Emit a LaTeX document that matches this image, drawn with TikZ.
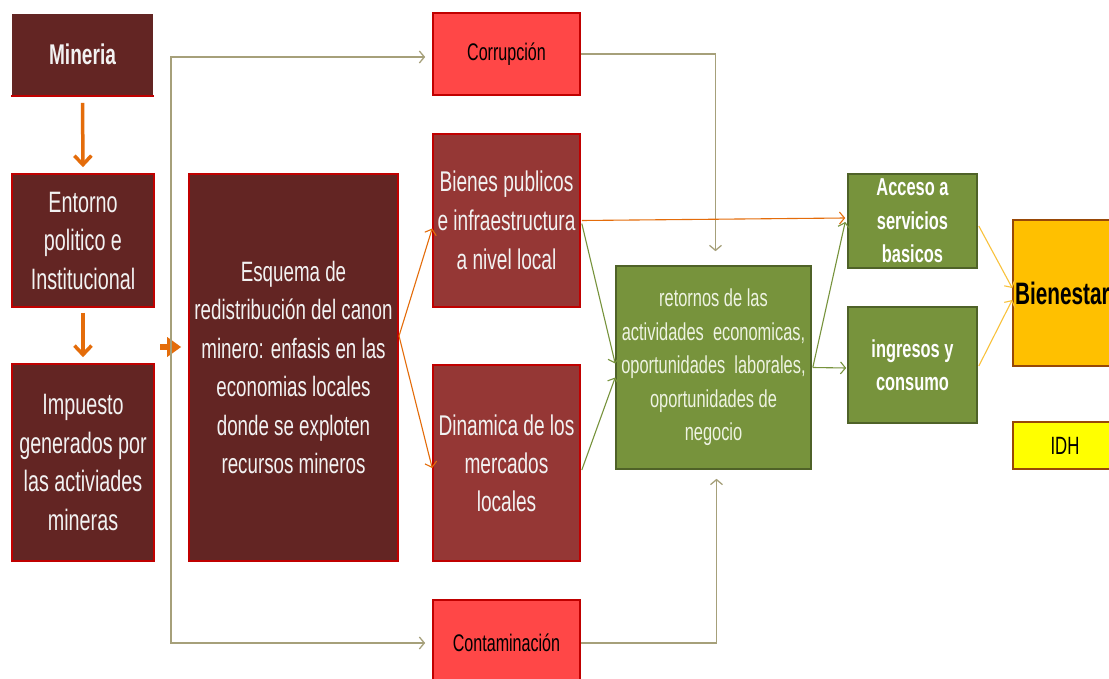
\documentclass[tikz,border=0pt]{standalone}
\usepackage{fontspec}
\newfontfamily\nf[FakeStretch=0.67]{Liberation Sans}
\usetikzlibrary{arrows.meta,calc}
\definecolor{maroon}{HTML}{632523}
\definecolor{bred}{HTML}{C00000}
\definecolor{midred}{HTML}{953735}
\definecolor{brightred}{HTML}{FF4747}
\definecolor{gfill}{HTML}{77933C}
\definecolor{gdark}{HTML}{4F6228}
\definecolor{goldf}{HTML}{FFC000}
\definecolor{brownb}{HTML}{984807}
\definecolor{ylw}{HTML}{FFFF00}
\definecolor{orng}{HTML}{E46C0A}
\definecolor{olv}{HTML}{A6A07A}
\definecolor{yarr}{HTML}{F9C23C}
\definecolor{txtw}{HTML}{F2F2F2}
\definecolor{txtg}{HTML}{EEF3E2}
\tikzset{
  box/.style={draw=bred, line width=1.6pt, inner sep=0pt, align=center},
  mbox/.style={box, fill=maroon, text=txtw},
  rbox/.style={box, fill=midred, text=txtw},
  hbox/.style={box, fill=brightred, text=black, font=\nf\fontsize{24}{30}\selectfont},
  gbox/.style={box, draw=gdark, fill=gfill, text=txtg},
  othick/.style={draw=orng, line width=3.5pt, -{Straight Barb[length=9pt,width=17pt]}},
  othin/.style={draw=orng, line width=1.1pt, -{Straight Barb[length=5pt,width=12pt]}},
  gthin/.style={draw=gfill, line width=1.1pt, -{Straight Barb[length=5pt,width=12pt]}},
  ythin/.style={draw=yarr, line width=1.1pt, -{Straight Barb[length=5pt,width=12pt]}},
  oline/.style={draw=olv, line width=1.3pt},
}
\begin{document}
\begin{tikzpicture}[x=1pt,y=-1pt]
\clip (0,0) rectangle (1109,679);
\fill[white] (0,0) rectangle (1109,679);
% left column
\node[mbox, draw=none, minimum width=141pt, minimum height=81pt, font=\nf\bfseries\fontsize{28.5}{32}\selectfont] (min) at (82.5,54.5) {Mineria};
\draw[bred, line width=2pt] (min.south west) -- (min.south east);
\node[mbox, font=\nf\fontsize{29.5}{38.5}\selectfont, minimum width=142pt, minimum height=133pt] (ent) at (83,240.5) {Entorno\\politico e\\Institucional};
\node[mbox, font=\nf\fontsize{29.5}{38.5}\selectfont, minimum width=142pt, minimum height=197pt] (imp) at (83,462.5) {Impuesto\\generados por\\las activiades\\mineras};
\node[mbox, font=\nf\fontsize{28}{38.5}\selectfont, minimum width=209pt, minimum height=387pt] (esq) at (293.5,367.5) {Esquema de\\redistribución del canon\\minero: enfasis en las\\economias locales\\donde se exploten\\recursos mineros};
% middle column
\node[hbox, minimum width=147pt, minimum height=82pt] (cor) at (506.5,54) {Corrupción};
\node[rbox, font=\nf\fontsize{28.5}{39}\selectfont, minimum width=147pt, minimum height=173pt] (bie) at (506.5,220.5) {Bienes publicos\\e infraestructura\\a nivel local};
\node[rbox, font=\nf\fontsize{28.5}{38}\selectfont, minimum width=147pt, minimum height=196pt] (din) at (506.5,463) {Dinamica de los\\mercados\\locales};
\node[hbox, minimum width=147pt, minimum height=86pt] (con) at (506.5,643) {Contaminación};
% green
\node[gbox, minimum width=195pt, minimum height=203pt, font=\nf\fontsize{24.5}{33.5}\selectfont] (ret) at (713.5,367.5) {retornos de las\\actividades\ \ economicas,\\oportunidades\ \ laborales,\\oportunidades de\\negocio};
\node[gbox, minimum width=129pt, minimum height=94pt, font=\nf\bfseries\fontsize{24.5}{33.5}\selectfont, text=white] (acc) at (912.5,221) {Acceso a\\servicios\\basicos};
\node[gbox, minimum width=129pt, minimum height=116pt, font=\nf\bfseries\fontsize{24.5}{33}\selectfont, text=white] (ing) at (912.5,365) {ingresos y\\consumo};
% right
\node[box, draw=brownb, fill=goldf, minimum width=117pt, minimum height=146pt, text width=113pt, align=left, inner xsep=2pt, font=\nf\bfseries\fontsize{31}{34}\selectfont, text=black] (bien) at (1071.5,293) {Bienestar};
\node[box, draw=brownb, fill=ylw, minimum width=104pt, minimum height=47pt, font=\nf\fontsize{25}{30}\selectfont, text=black] (idh) at (1065,445.5) {IDH};
% thick orange arrows
\draw[othick, shorten <=7pt, shorten >=6pt] (min.south) -- (ent.north);
\draw[othick, shorten <=5pt, shorten >=6pt] (ent.south) -- (imp.north);
\coordinate (fa) at (160,347);
\draw[draw=orng, line width=6pt, -{Triangle[length=14pt,width=19pt]}, shorten >=7pt] (fa) -- (esq.west |- fa);
% olive lines
\coordinate (ov) at (171,350);
\draw[oline, {Straight Barb[length=5pt,width=12pt]}-{Straight Barb[length=5pt,width=12pt]}, shorten <=7pt, shorten >=7pt] ($(cor.west)+(0,3)$) -| (ov) |- (con.west);
\draw[oline, -{Straight Barb[length=5pt,width=12pt]}, shorten >=14pt] (cor.east) -| ($(ret.north)+(2,0)$);
\draw[oline, -{Straight Barb[length=5pt,width=12pt]}, shorten >=9pt] (con.east) -| ($(ret.south)+(3,0)$);
% thin connectors
\coordinate (eo) at (399,336);
\draw[othin] (eo) -- ($(bie.west)+(0,8)$);
\draw[othin] (eo) -- ($(din.west)+(0,5)$);
\draw[othin] ($(bie.east)+(1,0)$) -- ($(acc.west)+(-2,-3)$);
\draw[gthin] ($(bie.east)+(1,3)$) -- ($(ret.west)+(0,-4)$);
\draw[gthin] ($(din.east)+(1,7)$) -- ($(ret.west)+(0,10)$);
\draw[gthin] ($(ret.east)+(1,0)$) -- ($(acc.west)+(-2,1)$);
\draw[gthin] ($(ret.east)+(1,0)$) -- ($(ing.west)+(-1,3)$);
\draw[ythin] ($(acc.east)+(1,5)$) -- ($(bien.west)+(0,-5)$);
\draw[ythin] ($(ing.east)+(1,1)$) -- ($(bien.west)+(0,7)$);
\end{tikzpicture}
\end{document}
